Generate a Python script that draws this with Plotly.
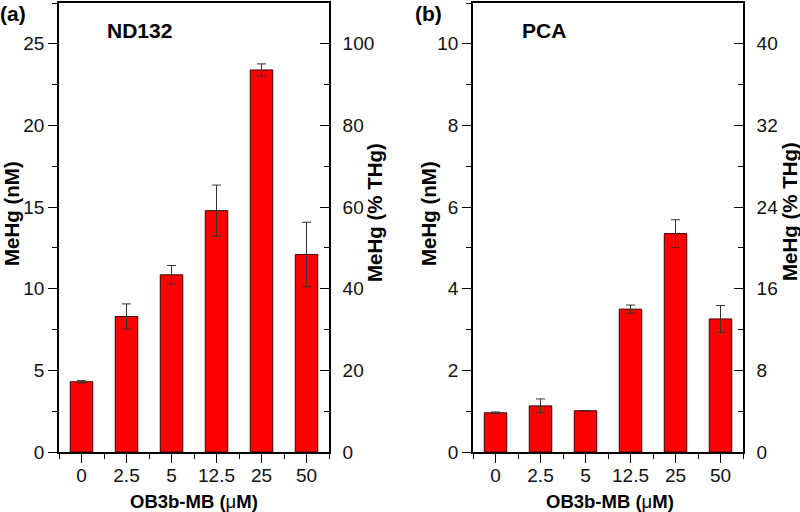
import plotly.graph_objects as go

categories = ["0", "2.5", "5", "12.5", "25", "50"]
nd132_mehg = [4.3, 8.3, 10.85, 14.78, 23.4, 12.1]
nd132_err = [0.07, 0.77, 0.57, 1.57, 0.37, 1.97]
pca_mehg = [0.96, 1.13, 1.01, 3.5, 5.35, 3.26]
pca_err = [0.02, 0.17, 0.0, 0.1, 0.34, 0.33]

left_ticks_a = [0, 5, 10, 15, 20, 25]
right_ticks_a = [0, 20, 40, 60, 80, 100]
left_ticks_b = [0, 2, 4, 6, 8, 10]
right_ticks_b = [0, 8, 16, 24, 32, 40]

W, H = 800, 512
FONT = "Arial, Liberation Sans, sans-serif"
xs = list(range(len(categories)))

fig = go.Figure()

def add_bars(y, err, xa, ya):
    fig.add_trace(go.Bar(
        x=xs, y=y, width=0.5, xaxis=xa, yaxis=ya,
        marker=dict(color="#ff0000", line=dict(color="#3a0000", width=1)),
        error_y=dict(type="data", array=err, visible=True, color="#333333",
                     thickness=1, width=4.5),
        showlegend=False, hoverinfo="skip"))

add_bars(nd132_mehg, nd132_err, "x", "y")
add_bars(pca_mehg, pca_err, "x2", "y3")
# dummy traces so the right-hand axes are drawn
fig.add_trace(go.Scatter(x=[None], y=[None], xaxis="x", yaxis="y2", showlegend=False))
fig.add_trace(go.Scatter(x=[None], y=[None], xaxis="x2", yaxis="y4", showlegend=False))

def px(x):
    return x / W

def py(y):
    return (H - y) / H

LW = 1.6
TS = 19
tickfont = dict(family=FONT, size=TS, color="#111111")

def xaxis(dom, anchor):
    return dict(domain=dom, anchor=anchor, range=[-0.5, 5.5], automargin=False,
                tickmode="array", tickvals=xs, ticktext=categories,
                ticks="outside", ticklen=9, tickwidth=1.4, tickcolor="black",
                minor=dict(tickmode="linear", tick0=-0.5, dtick=1, ticks="outside",
                           ticklen=5, tickwidth=1.4, tickcolor="black"),
                showline=True, linecolor="black", linewidth=LW, mirror=True,
                showgrid=False, zeroline=False, tickfont=tickfont,
                ticklabelstandoff=-4, fixedrange=True)

def yleft(dom, anchor, rng, tv):
    return dict(domain=dom, anchor=anchor, range=rng, tickmode="array", tickvals=tv,
                automargin=False,
                ticks="outside", ticklen=9, tickwidth=1.4, tickcolor="black",
                minor=dict(tickmode="linear", tick0=0, dtick=(tv[1] - tv[0]) / 2,
                           ticks="outside", ticklen=5, tickwidth=1.4, tickcolor="black"),
                showline=True, linecolor="black", linewidth=LW,
                showgrid=False, zeroline=False, tickfont=tickfont, fixedrange=True)

def yright(overl, anchor, rng, tv):
    return dict(overlaying=overl, anchor=anchor, side="right", range=rng,
                tickmode="array", tickvals=tv, automargin=False,
                ticks="inside", ticklen=9, tickwidth=1.4, tickcolor="black",
                minor=dict(tickmode="linear", tick0=0, dtick=(tv[1] - tv[0]) / 2,
                           ticks="inside", ticklen=5, tickwidth=1.4, tickcolor="black"),
                showline=True, linecolor="black", linewidth=LW,
                showgrid=False, zeroline=False, tickfont=tickfont,
                ticklabelstandoff=8, fixedrange=True)

ydom = [py(452), py(3)]
fig.update_layout(
    width=W, height=H, autosize=False, margin=dict(l=0, r=0, t=0, b=0, pad=0),
    paper_bgcolor="white", plot_bgcolor="white", bargap=0.5,
    font=dict(family=FONT, color="black"),
    xaxis=xaxis([px(59), px(329)], "y"),
    yaxis=yleft(ydom, "x", [0, 27.5], left_ticks_a),
    yaxis2=yright("y", "x", [0, 110], right_ticks_a),
    xaxis2=xaxis([px(473), px(743)], "y3"),
    yaxis3=yleft(ydom, "x2", [0, 11], left_ticks_b),
    yaxis4=yright("y3", "x2", [0, 44], right_ticks_b),
)

def ann(text, x, y, size, rot=0, bold=True):
    fig.add_annotation(text=text, x=px(x), y=py(y), xref="paper", yref="paper",
                       showarrow=False, textangle=rot, xanchor="center", yanchor="middle",
                       font=dict(family=FONT, size=size, color="black",
                                 weight="bold" if bold else "normal"))

ann("(a)", 13, 13, 21)
ann("(b)", 428, 13, 21)
ann("ND132", 139, 30, 21)
ann("PCA", 544, 30, 21)
xt = "<b>OB3b-MB (</b>μ<b>M)</b>"
ann(xt, 194, 501, 18.5, bold=False)
ann(xt, 610, 501, 18.5, bold=False)
ann("MeHg (nM)", 11, 214, 20.5, rot=-90)
ann("MeHg (nM)", 428, 214, 20.5, rot=-90)
ann("MeHg (% THg)", 374, 213, 20.5, rot=-90)
ann("MeHg (% THg)", 789, 212, 20.5, rot=-90)

fig.write_html(
    "out.html",
    config={"displayModeBar": False, "responsive": False},
    post_script="document.body.style.margin='0';document.body.style.overflow='hidden';",
)
